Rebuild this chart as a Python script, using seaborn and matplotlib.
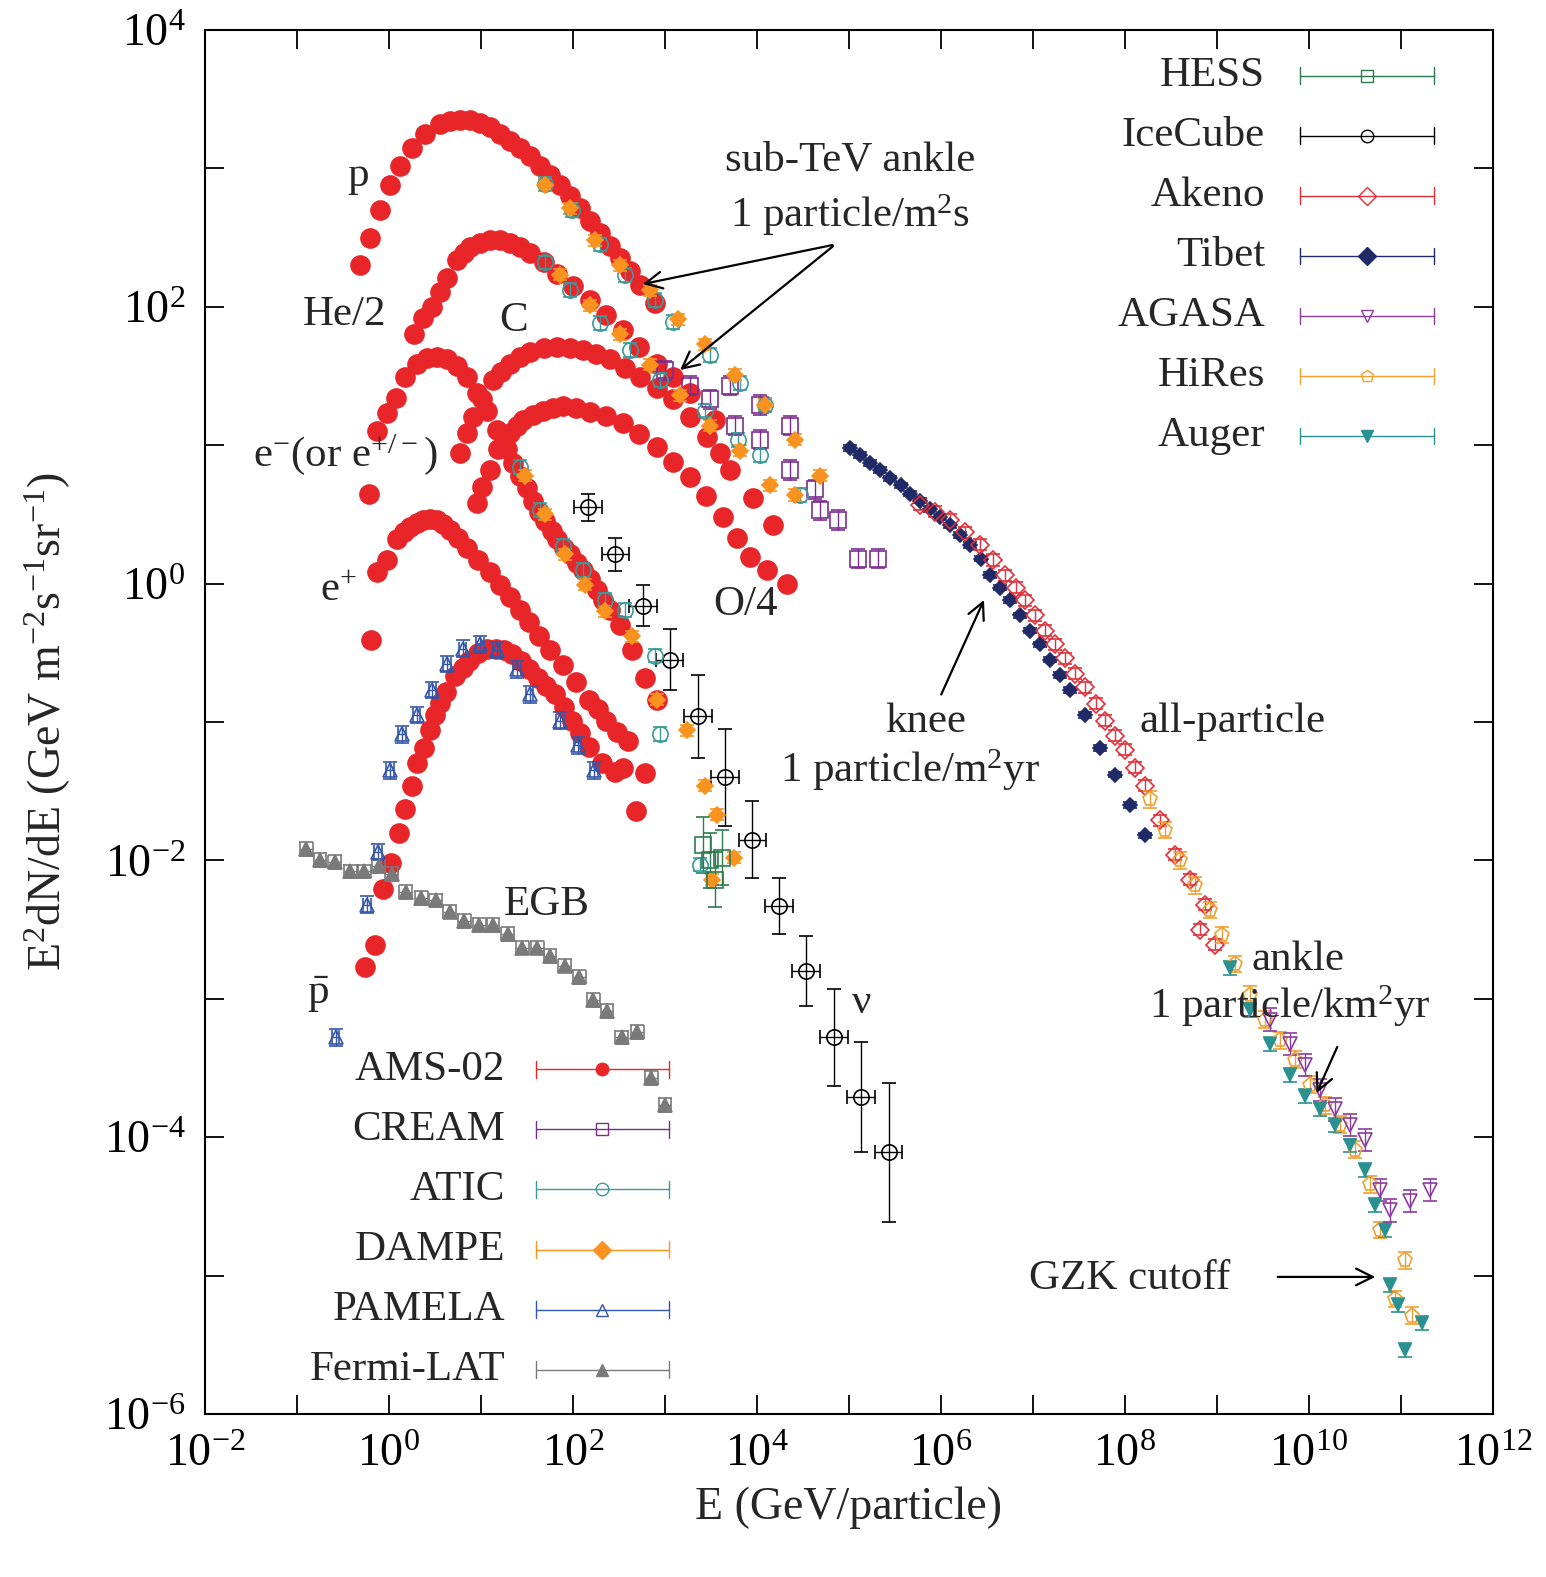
import numpy as np
import pandas as pd
import matplotlib
matplotlib.use("Agg")
import matplotlib.pyplot as plt
import seaborn as sb

# ---- data (log10 E [GeV], log10 E^2 dN/dE) ----
p_lE = [-0.32, -0.21, -0.10, 0.01, 0.12, 0.25, 0.39, 0.55, 0.66, 0.77, 0.88, 0.99, 1.10, 1.21, 1.32, 1.42, 1.53, 1.64, 1.75, 1.86, 1.97, 2.08, 2.18, 2.29, 2.40, 2.51, 2.62, 2.73, 2.89]
p_lF = [2.30, 2.50, 2.70, 2.88, 3.02, 3.15, 3.25, 3.32, 3.34, 3.35, 3.35, 3.33, 3.30, 3.25, 3.20, 3.15, 3.09, 3.02, 2.95, 2.88, 2.80, 2.71, 2.62, 2.53, 2.44, 2.35, 2.26, 2.16, 2.03]

he_lE = [0.27, 0.37, 0.47, 0.55, 0.63, 0.74, 0.81, 0.88, 0.99, 1.10, 1.21, 1.32, 1.42, 1.53, 1.68, 1.83, 2.00, 2.18, 2.36, 2.54, 2.72, 2.91, 3.09, 3.27, 3.54]
he_lF = [1.80, 1.92, 2.00, 2.11, 2.21, 2.34, 2.39, 2.43, 2.46, 2.48, 2.48, 2.46, 2.43, 2.39, 2.32, 2.24, 2.15, 2.05, 1.94, 1.83, 1.71, 1.59, 1.49, 1.38, 1.18]

em_lE = [-0.22, -0.13, -0.02, 0.08, 0.17, 0.30, 0.41, 0.52, 0.63, 0.74, 0.85, 0.96, 1.06, 1.17, 1.28, 1.35, 1.42, 1.50, 1.57, 1.63, 1.70, 1.77, 1.83, 1.90, 1.97, 2.04, 2.11, 2.18, 2.26, 2.33, 2.40, 2.51, 2.64, 2.78, 2.91]
em_lF = [0.65, 1.10, 1.23, 1.34, 1.49, 1.59, 1.63, 1.64, 1.62, 1.57, 1.49, 1.38, 1.25, 1.11, 0.97, 0.87, 0.78, 0.69, 0.60, 0.52, 0.45, 0.38, 0.32, 0.26, 0.21, 0.15, 0.10, 0.03, -0.05, -0.12, -0.19, -0.30, -0.48, -0.68, -0.84]

c_lE = [0.77, 0.85, 0.91, 1.01, 1.13, 1.22, 1.32, 1.42, 1.53, 1.68, 1.83, 1.97, 2.11, 2.25, 2.40, 2.56, 2.73, 2.91, 3.09, 3.27, 3.46, 3.60, 3.71, 3.96, 4.17]
c_lF = [0.94, 1.09, 1.20, 1.33, 1.47, 1.53, 1.59, 1.64, 1.67, 1.70, 1.71, 1.70, 1.69, 1.66, 1.62, 1.56, 1.49, 1.41, 1.33, 1.20, 1.06, 0.94, 0.82, 0.62, 0.42]

o_lE = [0.96, 1.01, 1.10, 1.18, 1.25, 1.32, 1.39, 1.46, 1.56, 1.67, 1.78, 1.89, 2.03, 2.18, 2.36, 2.54, 2.72, 2.91, 3.09, 3.27, 3.45, 3.63, 3.78, 3.92, 4.11, 4.33]
o_lF = [0.58, 0.70, 0.82, 0.97, 1.03, 1.09, 1.14, 1.18, 1.22, 1.25, 1.27, 1.28, 1.27, 1.24, 1.21, 1.16, 1.08, 0.99, 0.88, 0.77, 0.63, 0.48, 0.33, 0.19, 0.10, 0.00]

ep_lE = [-0.20, -0.13, -0.02, 0.09, 0.16, 0.23, 0.30, 0.37, 0.45, 0.52, 0.59, 0.66, 0.75, 0.85, 0.97, 1.10, 1.21, 1.32, 1.42, 1.52, 1.63, 1.75, 1.89, 2.03, 2.17, 2.27, 2.36, 2.48, 2.60, 2.78, 2.68]
ep_lF = [-0.41, 0.08, 0.17, 0.32, 0.37, 0.41, 0.44, 0.46, 0.47, 0.46, 0.43, 0.39, 0.33, 0.26, 0.17, 0.08, -0.01, -0.10, -0.19, -0.28, -0.38, -0.48, -0.59, -0.71, -0.84, -0.91, -0.99, -1.07, -1.14, -1.37, -1.64]

pb_lE = [-0.26, -0.15, -0.07, 0.02, 0.11, 0.17, 0.25, 0.30, 0.38, 0.45, 0.50, 0.55, 0.62, 0.72, 0.80, 0.87, 0.97, 1.07, 1.16, 1.25, 1.34, 1.43, 1.52, 1.62, 1.71, 1.80, 1.90, 1.99, 2.08, 2.17, 2.32, 2.46, 2.54]
pb_lF = [-2.77, -2.61, -2.21, -2.02, -1.80, -1.63, -1.46, -1.30, -1.19, -1.06, -0.95, -0.86, -0.78, -0.67, -0.61, -0.56, -0.50, -0.47, -0.47, -0.48, -0.51, -0.56, -0.62, -0.68, -0.74, -0.80, -0.89, -0.99, -1.08, -1.18, -1.30, -1.36, -1.33]

pam_lE = [-0.58, -0.24, -0.12, 0.01, 0.14, 0.30, 0.47, 0.63, 0.80, 0.99, 1.17, 1.39, 1.53, 1.86, 2.05, 2.23]
pam_lF = [-3.28, -2.32, -1.94, -1.35, -1.09, -0.95, -0.77, -0.58, -0.47, -0.44, -0.48, -0.62, -0.80, -0.99, -1.17, -1.35]

egb_lE = [-0.90, -0.75, -0.59, -0.42, -0.27, -0.11, 0.03, 0.18, 0.35, 0.51, 0.66, 0.82, 0.98, 1.13, 1.29, 1.45, 1.61, 1.75, 1.91, 2.07, 2.22, 2.37, 2.53, 2.70, 2.85, 3.00]
egb_lF = [-1.92, -2.00, -2.01, -2.08, -2.08, -2.04, -2.10, -2.23, -2.27, -2.29, -2.37, -2.44, -2.47, -2.47, -2.53, -2.63, -2.63, -2.69, -2.76, -2.84, -3.01, -3.09, -3.28, -3.24, -3.57, -3.77]

nu_lE = [2.16, 2.46, 2.76, 3.05, 3.36, 3.65, 3.95, 4.24, 4.53, 4.84, 5.13, 5.43]
nu_lF = [0.55, 0.21, -0.16, -0.55, -0.96, -1.40, -1.85, -2.33, -2.80, -3.28, -3.71, -4.11]
nu_err = [0.10, 0.12, 0.15, 0.22, 0.30, 0.35, 0.28, 0.20, 0.25, 0.35, 0.40, 0.50]

tibet_lE = [5.01, 5.12, 5.23, 5.34, 5.45, 5.56, 5.66, 5.77, 5.88, 5.99, 6.10, 6.21, 6.32, 6.43, 6.53, 6.64, 6.75, 6.86, 6.97, 7.08, 7.18, 7.29, 7.40, 7.57, 7.73, 7.89, 8.05, 8.22]
tibet_lF = [0.98, 0.93, 0.87, 0.82, 0.76, 0.71, 0.65, 0.60, 0.54, 0.48, 0.42, 0.35, 0.28, 0.18, 0.06, -0.03, -0.12, -0.23, -0.34, -0.44, -0.55, -0.66, -0.77, -0.95, -1.19, -1.38, -1.60, -1.82]

akeno_lE = [5.77, 5.94, 6.10, 6.26, 6.42, 6.56, 6.70, 6.81, 6.91, 7.02, 7.13, 7.24, 7.35, 7.46, 7.57, 7.68, 7.78, 7.89, 8.00, 8.11, 8.22, 8.38, 8.54, 8.71, 8.87, 8.82, 8.98]
akeno_lF = [0.57, 0.52, 0.46, 0.37, 0.28, 0.17, 0.06, -0.03, -0.12, -0.23, -0.34, -0.44, -0.54, -0.65, -0.75, -0.87, -0.99, -1.10, -1.20, -1.33, -1.46, -1.71, -1.96, -2.14, -2.32, -2.50, -2.61]

hires_lE = [8.27, 8.43, 8.60, 8.76, 8.92, 9.05, 9.20, 9.36, 9.52, 9.68, 9.85, 10.01, 10.17, 10.34, 10.50, 10.66, 10.77, 10.93, 11.04, 11.12]
hires_lF = [-1.56, -1.78, -2.00, -2.18, -2.36, -2.54, -2.75, -2.97, -3.15, -3.30, -3.44, -3.62, -3.77, -3.91, -4.09, -4.34, -4.67, -5.17, -4.89, -5.29]

auger_lE = [9.14, 9.36, 9.58, 9.79, 9.96, 10.12, 10.28, 10.45, 10.61, 10.72, 10.83, 10.88, 10.97, 11.04, 11.23]
auger_lF = [-2.78, -3.08, -3.33, -3.55, -3.70, -3.80, -3.91, -4.06, -4.24, -4.49, -4.67, -5.07, -5.21, -5.54, -5.34]

agasa_lE = [9.58, 9.79, 9.96, 10.12, 10.28, 10.45, 10.61, 10.77, 10.88, 11.10, 11.32]
agasa_lF = [-3.15, -3.33, -3.48, -3.66, -3.80, -3.91, -4.02, -4.38, -4.53, -4.46, -4.38]

cream_lE = [3.71, 4.03, 4.36, 4.63, 4.88, 5.10, 5.32, 3.00, 3.27, 3.49, 3.76, 4.03, 4.36, 4.68]
cream_lF = [1.43, 1.29, 1.14, 0.68, 0.46, 0.18, 0.18, 1.54, 1.43, 1.33, 1.14, 1.04, 0.82, 0.53]

atic_lE = [1.70, 1.99, 2.29, 2.57, 2.89, 3.09, 3.49, 3.82, 4.09,
           1.70, 1.97, 2.29, 2.62, 2.95, 3.43, 3.79, 4.03, 4.47,
           1.42, 1.64, 1.89, 2.11, 2.35, 2.57, 2.89, 2.95, 3.38]
atic_lF = [2.89, 2.70, 2.45, 2.23, 2.05, 1.89, 1.65, 1.45, 1.29,
           2.32, 2.12, 1.88, 1.69, 1.47, 1.25, 1.04, 0.93, 0.64,
           0.84, 0.53, 0.27, 0.10, -0.12, -0.19, -0.52, -1.09, -2.03]

dampe_lE = [1.70, 1.97, 2.24, 2.51, 2.84, 3.14, 3.43, 3.76, 4.09, 4.41, 4.68,
            1.86, 2.18, 2.51, 2.84, 3.16, 3.49, 3.82, 4.14, 4.41,
            1.48, 1.70, 1.91, 2.13, 2.35, 2.64, 2.91, 3.24, 3.43, 3.57, 3.75, 3.51]
dampe_lF = [2.88, 2.71, 2.48, 2.30, 2.12, 1.91, 1.73, 1.51, 1.29, 1.04, 0.78,
            2.23, 2.01, 1.80, 1.58, 1.36, 1.14, 0.96, 0.71, 0.64,
            0.78, 0.50, 0.21, -0.01, -0.20, -0.38, -0.84, -1.06, -1.46, -1.67, -1.98, -2.14]

hess_lE = [3.41, 3.49, 3.54, 3.62]
hess_lF = [-1.89, -2.00, -2.14, -1.98]

# ---- style ----
sb.set_theme(style="ticks")
plt.rcParams["font.family"] = ["Liberation Serif", "DejaVu Serif"]
plt.rcParams["mathtext.fontset"] = "custom"
plt.rcParams["mathtext.rm"] = "Liberation Serif"
plt.rcParams["mathtext.it"] = "Liberation Serif"
plt.rcParams["mathtext.default"] = "rm"
plt.rcParams["axes.unicode_minus"] = False

red = "#e8262a"; purple = "#7b2d8e"; teal = "#3a9a9a"; orange = "#f7931e"
blue = "#3355aa"; grey = "#7a7a7a"; green = "#2d7a4f"; navy = "#1f2a66"
FS = 31

fig = plt.figure(figsize=(15.46, 15.77), dpi=100)
ax = fig.add_axes([0.1326, 0.1034, 0.8331, 0.8776])


def series(lE, lF, color, marker, ms, err=0.05, xerr=0.0, mfc=None, lw=1.0):
    E = 10 ** np.asarray(lE)
    F = 10 ** np.asarray(lF)
    e = np.asarray(err) * np.ones_like(F)
    yerr = [F * (1 - 10 ** -e), F * (10 ** e - 1)]
    xe = [E * (1 - 10 ** -xerr), E * (10 ** xerr - 1)] if xerr else None
    ax.errorbar(E, F, yerr=yerr, xerr=xe, fmt=marker, color=color, ms=ms,
                mfc=mfc if mfc else color, mec=color, elinewidth=lw, capsize=5,
                capthick=lw, mew=1.2, zorder=3)


# AMS-02 curves
ams = pd.concat([pd.DataFrame({"lE": a, "lF": b}) for a, b in
                 [(p_lE, p_lF), (he_lE, he_lF), (em_lE, em_lF), (c_lE, c_lF),
                  (o_lE, o_lF), (ep_lE, ep_lF), (pb_lE, pb_lF)]])
ams["E"] = 10 ** ams["lE"]
ams["F"] = 10 ** ams["lF"]
sb.scatterplot(data=ams, x="E", y="F", color=red, s=190, edgecolor=red, ax=ax, zorder=2)

series(pam_lE, pam_lF, blue, "^", 10, err=0.06, xerr=0.04, mfc="none")
series(egb_lE, egb_lF, grey, "^", 10, err=0.05, xerr=0.07)
series(nu_lE, nu_lF, "black", "o", 11, err=nu_err, xerr=0.15, mfc="none")
series(cream_lE, cream_lF, purple, "s", 11, err=0.07, mfc="none")
series(atic_lE, atic_lF, teal, "o", 11, err=0.05, mfc="none")
series(dampe_lE, dampe_lF, orange, "D", 8, err=0.04)
series(hess_lE, hess_lF, green, "s", 11, err=0.2, mfc="none")
series(tibet_lE, tibet_lF, navy, "D", 7, err=0.02)
series(akeno_lE, akeno_lF, "#e0303a", "D", 9, err=0.04, mfc="none")
series(hires_lE, hires_lF, "#f0a030", "p", 11, err=0.06, mfc="none")
series(auger_lE, auger_lF, "#2a9090", "v", 9, err=0.05)
series(agasa_lE, agasa_lF, "#8a3d9e", "v", 10, err=0.08, mfc="none")

ax.set_xscale("log")
ax.set_yscale("log")
ax.set_xlim(1e-2, 1e12)
ax.set_ylim(1e-6, 1e4)
xt = 10.0 ** np.arange(-2, 13)
yt = 10.0 ** np.arange(-6, 5)
ax.set_xticks(xt)
ax.set_xticklabels([f"10$^{{{k}}}$" if k % 2 == 0 else "" for k in range(-2, 13)])
ax.set_yticks(yt)
ax.set_yticklabels([f"10$^{{{k}}}$" if k % 2 == 0 else "" for k in range(-6, 5)])
ax.minorticks_off()
ax.tick_params(which="major", direction="in", length=14, width=1.3, top=True, right=True,
               labelsize=FS + 2, pad=14, colors="black")
for s in ax.spines.values():
    s.set_linewidth(1.5)
    s.set_color("black")
ax.set_xlabel("E (GeV/particle)", fontsize=FS + 2, labelpad=8)
ax.set_ylabel("E$^2$dN/dE (GeV m$^{-2}$s$^{-1}$sr$^{-1}$)", fontsize=FS + 2, labelpad=22)


def lab(lx, ly, s, ha="center"):
    ax.text(10 ** lx, 10 ** ly, s, fontsize=FS, ha=ha, va="center", zorder=5)


def arrow(lx0, ly0, lx1, ly1):
    ax.annotate("", xy=(10 ** lx1, 10 ** ly1), xytext=(10 ** lx0, 10 ** ly0),
                arrowprops=dict(arrowstyle="->", lw=1.6, color="black",
                                mutation_scale=30), zorder=5)


lab(-0.34, 2.95, "p")
lab(-0.48, 1.94, "He/2")
lab(1.35, 1.90, "C")
lab(-0.48, 0.93, "e$^{-}$(or e$^{+/-}$)")
lab(-0.55, -0.05, "e$^{+}$")
lab(3.87, -0.15, "O/4")
lab(1.72, -2.32, "EGB")
lab(-0.77, -2.97, r"$\bar{\rm p}$")
lab(5.14, -3.03, "\u03bd")
lab(5.01, 3.06, "sub-TeV ankle")
lab(5.01, 2.66, "1 particle/m$^2$s")
arrow(4.85, 2.45, 2.73, 2.16)
arrow(4.85, 2.45, 3.14, 1.53)
lab(5.83, -1.0, "knee")
lab(5.66, -1.35, "1 particle/m$^2$yr")
arrow(5.99, -0.82, 6.48, -0.10)
lab(9.17, -1.0, "all-particle")
lab(9.88, -2.72, "ankle")
lab(9.79, -3.05, "1 particle/km$^2$yr")
arrow(10.32, -3.33, 10.07, -3.70)
lab(8.05, -5.02, "GZK cutoff")
arrow(9.63, -5.01, 10.75, -5.01)

# gnuplot style keys
top_key = [("HESS", green, "s", "none"), ("IceCube", "black", "o", "none"),
           ("Akeno", "#e0303a", "D", "none"), ("Tibet", navy, "D", navy),
           ("AGASA", "#8a3d9e", "v", "none"), ("HiRes", "#f0a030", "p", "none"),
           ("Auger", "#2a9090", "v", "#2a9090")]
bot_key = [("AMS-02", red, "o", red), ("CREAM", purple, "s", "none"),
           ("ATIC", teal, "o", "none"), ("DAMPE", orange, "D", orange),
           ("PAMELA", blue, "^", "none"), ("Fermi-LAT", grey, "^", grey)]


def key(entries, xt_, x0, x1, y0, dy):
    for i, (name, c, m, fc) in enumerate(entries):
        y = y0 - i * dy
        ax.text(xt_, y, name, transform=ax.transAxes, fontsize=FS, ha="right", va="center")
        ax.plot([x0, x1], [y, y], color=c, lw=1.0, transform=ax.transAxes)
        ax.plot([x0, x0], [y - 0.006, y + 0.006], color=c, lw=1.0, transform=ax.transAxes)
        ax.plot([x1, x1], [y - 0.006, y + 0.006], color=c, lw=1.0, transform=ax.transAxes)
        ax.plot([(x0 + x1) / 2], [y], marker=m, color=c, mfc=fc, mec=c, ms=9,
                transform=ax.transAxes)


key(top_key, 0.823, 0.850, 0.954, 0.967, 0.0434)
key(bot_key, 0.233, 0.257, 0.360, 0.249, 0.0434)

fig.savefig("out.png", dpi=100)
